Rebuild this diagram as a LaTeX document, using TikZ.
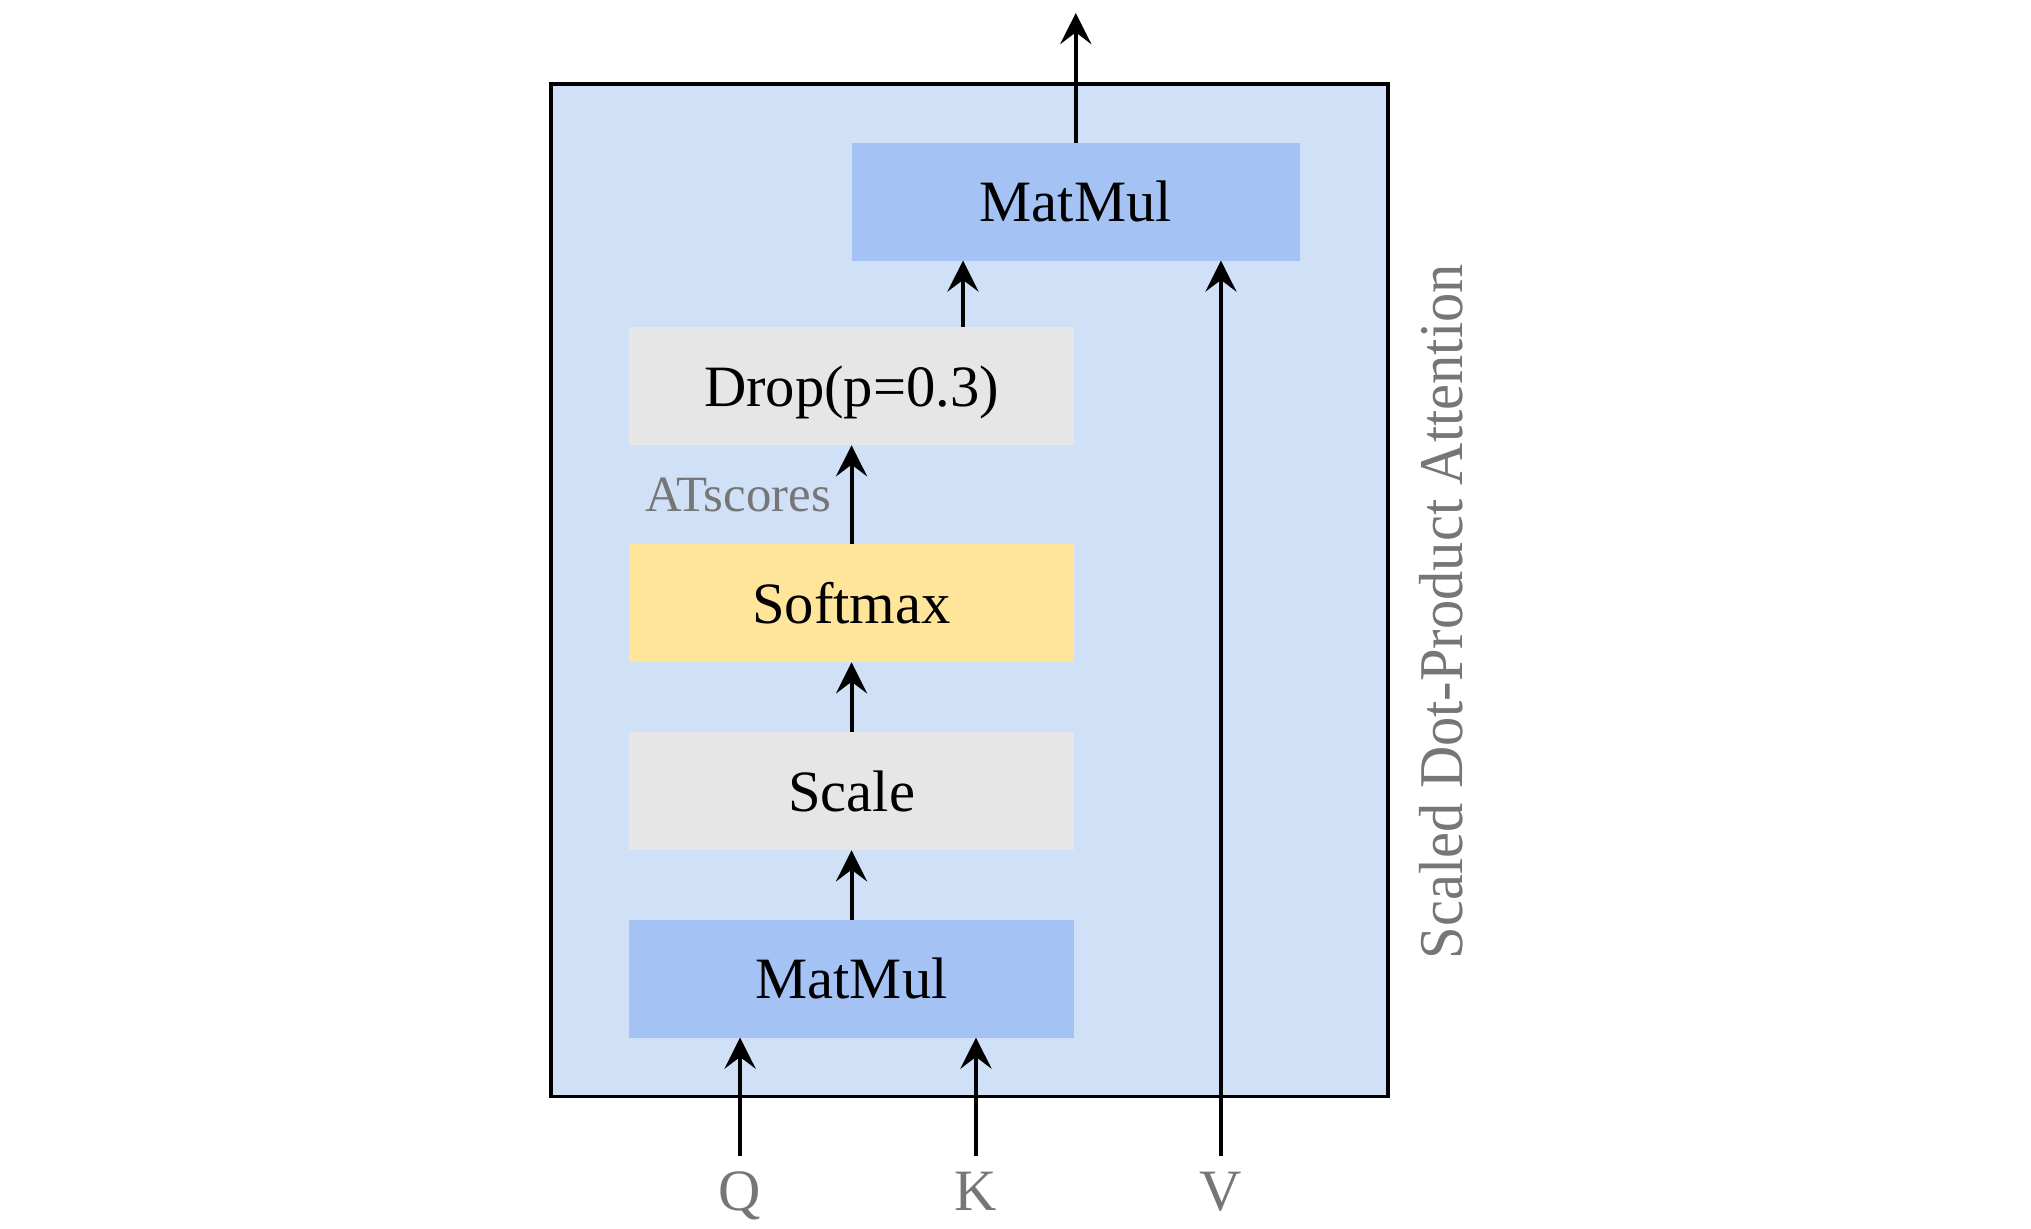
\documentclass[tikz,border=0pt]{standalone}
\usepackage{fontspec}
\setmainfont{Liberation Serif}
\usetikzlibrary{arrows.meta}
\definecolor{outerfill}{HTML}{D0E0F7}
\definecolor{bluebox}{HTML}{A4C2F4}
\definecolor{graybox}{HTML}{E6E6E6}
\definecolor{yellowbox}{HTML}{FFE59A}
\definecolor{labgray}{HTML}{767676}
\tikzset{
  opbox/.style={draw=none, minimum width=172pt, minimum height=45.5pt, inner sep=0pt, outer sep=0pt,
    text height=15.6pt, text depth=0pt, font=\fontsize{22.6}{26}\selectfont},
  arr/.style={line width=1.5pt, -{Stealth[length=12pt,width=12pt,inset=4.5pt]}},
  sidelab/.style={text=labgray, inner sep=0pt, outer sep=0pt},
}
\begin{document}
\begin{tikzpicture}[x=0.5pt,y=-0.5pt]
\useasboundingbox (0,0) rectangle (1567,947.5);
% outer box
\node[draw=black, line width=1.5pt, fill=outerfill, minimum width=323pt, minimum height=390.5pt,
      inner sep=0pt, outer sep=0pt] (outer) at (748,455.5) {};
% operation boxes
\node[opbox, fill=bluebox, minimum width=173pt] (mm2) at (830,155.5) {MatMul};
\node[opbox, fill=graybox] (drop) at (657,298) {Drop(p=0.3)};
\node[opbox, fill=yellowbox] (soft) at (657,465.5) {Softmax};
\node[opbox, fill=graybox] (scale) at (657,610.5) {Scale};
\node[opbox, fill=bluebox] (mm1) at (657,755) {MatMul};
% inputs
\node[sidelab, anchor=north, inner ysep=6pt, font=\fontsize{22.6}{26}\selectfont] (q) at (571,892) {Q};
\node[sidelab, anchor=north, inner ysep=6pt, font=\fontsize{22.6}{26}\selectfont] (k) at (753,892) {K};
\node[sidelab, anchor=north, inner ysep=6pt, font=\fontsize{22.6}{26}\selectfont] (v) at (942,892) {V};
\coordinate (out) at (830,10);
% connectors
\draw[arr] (q.north) -- (q.north |- mm1.south);
\draw[arr] (k.north) -- (k.north |- mm1.south);
\draw[arr] (v.north) -- (v.north |- mm2.south);
\draw[arr] (mm1.north) -- (scale.south);
\draw[arr] (scale.north) -- (soft.south);
\draw[arr] (soft.north) -- node[sidelab, left=8pt, pos=0.5, font=\fontsize{19.6}{22}\selectfont] (ats) {ATscores} (drop.south);
\draw[arr] (drop.north -| 743,0) -- (mm2.south -| 743,0);
\draw[arr] (mm2.north) -- (out);
% side title
\node[sidelab, rotate=90, font=\fontsize{24}{28}\selectfont] (title) at (1112,472) {\scalebox{0.94}[1]{Scaled Dot-Product Attention}};
\end{tikzpicture}
\end{document}
